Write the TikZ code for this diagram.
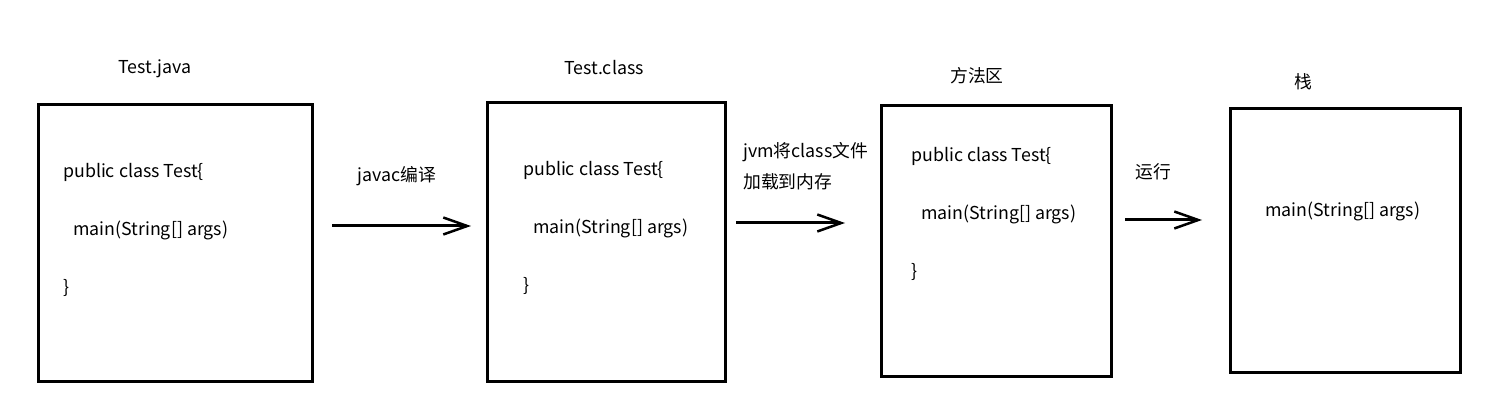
\documentclass[tikz,border=0pt]{standalone}
\usepackage{fontspec}
\setmainfont{Noto Sans CJK SC}
\usetikzlibrary{arrows.meta}

\begin{document}
\begin{tikzpicture}[x=1pt, y=-1pt,
    box/.style={draw, line width=3pt, inner sep=0pt},
    code/.style={anchor=west, inner sep=0pt, font=\fontsize{17.8}{20}\selectfont},
    label/.style={inner sep=0pt, font=\fontsize{17.8}{20}\selectfont},
    flow/.style={line width=3pt, -{Straight Barb[length=24pt,width=17pt,line width=2.5pt]}}]

    \useasboundingbox (0,0) rectangle (1510,411);

    % the four boxes
    \node[box, minimum width=274pt, minimum height=277pt] (java) at (175,243) {};
    \node[box, minimum width=238pt, minimum height=279pt] (class) at (606,242.5) {};
    \node[box, minimum width=230pt, minimum height=271pt] (method) at (996,241.5) {};
    \node[box, minimum width=230pt, minimum height=264pt] (stack) at (1345,241) {};

    % titles
    \node[label] (javaname) at (155,69) {Test.java};
    \node[label] (classname) at (604,68) {Test.class};
    \node[label] (methodname) at (977,76) {方法区};
    \node[label] (stackname) at (1303,82) {栈};

    % code
    \node[code] (j1) at (63,172) {public class Test\{};
    \node[code] (j2) at (73,230) {main(String[] args)};
    \node[code] (j3) at (63,288) {\}};
    \node[code] (c1) at (523,170) {public class Test\{};
    \node[code] (c2) at (533,228) {main(String[] args)};
    \node[code] (c3) at (523,286) {\}};
    \node[code] (m1) at (911,156) {public class Test\{};
    \node[code] (m2) at (921,214) {main(String[] args)};
    \node[code] (m3) at (911,272) {\}};
    \node[code] (s1) at (1265,211) {main(String[] args)};

    % arrows
    \coordinate (a1) at (332,226); \coordinate (b1) at (471,226);
    \coordinate (a2) at (736,223); \coordinate (b2) at (845,223);
    \coordinate (a3) at (1125,220); \coordinate (b3) at (1202,220);
    \draw[flow] (a1) -- (b1);
    \draw[flow] (a2) -- (b2);
    \draw[flow] (a3) -- (b3);

    \node[label] (compile) at (397,176) {javac编译};
    \node[code] (load1) at (743,152) {jvm将class文件};
    \node[code] (load2) at (743,182) {加载到内存};
    \node[label] (run) at (1153,172) {运行};

\end{tikzpicture}
\end{document}
